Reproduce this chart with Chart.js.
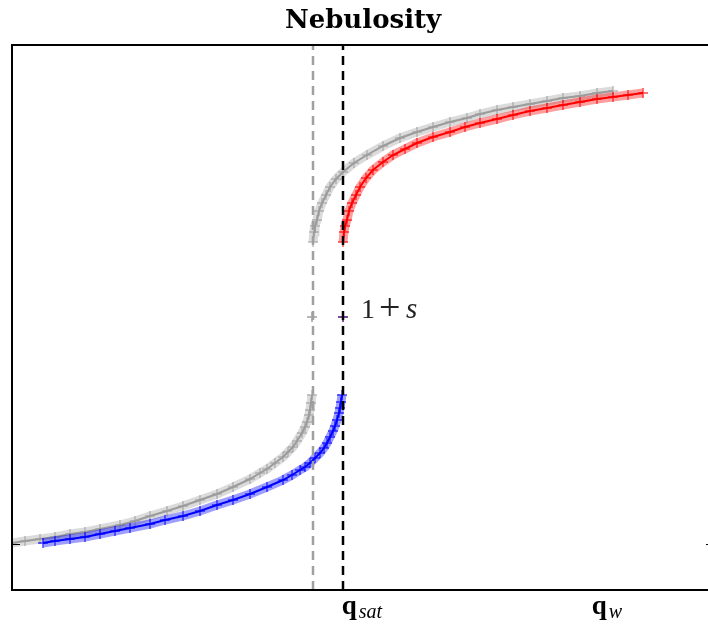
<!DOCTYPE html>
<html>
<head>
<meta charset="utf-8">
<script src="https://cdn.jsdelivr.net/npm/chart.js@4.4.0/dist/chart.umd.min.js"></script>
<style>
  html, body { margin: 0; padding: 0; background: #fff; overflow: hidden; }
  canvas { display: block; }
</style>
</head>
<body>
<canvas id="chart" width="708" height="631"></canvas>
<script>
// lower branch (blue), below q_sat
const blueX = [0.31, 0.43, 0.58, 0.73, 0.88, 1.03, 1.18, 1.38, 1.53, 1.71, 1.88, 2.05, 2.21, 2.38, 2.55, 2.71,
  2.80, 2.88, 2.93, 2.98, 3.03, 3.08, 3.12, 3.15, 3.18, 3.21, 3.23, 3.25, 3.27, 3.28, 3.29, 3.30];
const blueY = [-2.26, -2.24, -2.22, -2.20, -2.17, -2.14, -2.11, -2.07, -2.03, -1.99, -1.94, -1.88, -1.83, -1.77, -1.70, -1.63,
  -1.58, -1.53, -1.50, -1.46, -1.41, -1.36, -1.31, -1.26, -1.20, -1.14, -1.09, -1.03, -0.96, -0.91, -0.85, -0.78];

// upper branch (red), above q_sat
const redX = [3.31, 3.32, 3.33, 3.35, 3.37, 3.40, 3.44, 3.48, 3.54, 3.61, 3.71, 3.81, 3.93, 4.05, 4.21, 4.38,
  4.53, 4.68, 4.85, 5.01, 5.18, 5.35, 5.51, 5.68, 5.85, 6.01, 6.16, 6.31];
const redY = [0.75, 0.85, 0.91, 0.97, 1.06, 1.14, 1.22, 1.30, 1.39, 1.47, 1.55, 1.62, 1.68, 1.74, 1.80, 1.85,
  1.90, 1.94, 1.98, 2.02, 2.06, 2.09, 2.12, 2.15, 2.18, 2.20, 2.22, 2.24];

// shifted curve (gray), lower and upper branch
const grayLowX = [0.00, 0.13, 0.28, 0.43, 0.58, 0.73, 0.88, 1.08, 1.23, 1.38, 1.55, 1.71, 1.88, 2.05, 2.21, 2.38,
  2.48, 2.55, 2.63, 2.71, 2.76, 2.81, 2.85, 2.90, 2.93, 2.95, 2.97, 2.98, 2.99, 3.00];
const grayLowY = [-2.26, -2.24, -2.22, -2.20, -2.17, -2.15, -2.12, -2.08, -2.04, -1.99, -1.94, -1.89, -1.83, -1.77, -1.70, -1.62,
  -1.56, -1.52, -1.46, -1.40, -1.35, -1.30, -1.24, -1.16, -1.10, -1.05, -0.98, -0.93, -0.86, -0.78];
const grayUpX = [3.01, 3.02, 3.03, 3.05, 3.07, 3.10, 3.14, 3.18, 3.24, 3.31, 3.42, 3.55, 3.71, 3.88, 4.05, 4.21,
  4.38, 4.55, 4.68, 4.85, 5.01, 5.18, 5.35, 5.51, 5.68, 5.85, 6.01];
const grayUpY = [0.75, 0.85, 0.91, 0.97, 1.06, 1.14, 1.22, 1.30, 1.38, 1.45, 1.54, 1.62, 1.71, 1.79, 1.85, 1.90,
  1.95, 1.99, 2.03, 2.07, 2.10, 2.13, 2.16, 2.19, 2.21, 2.24, 2.26];

// the "1 + s" points at the jump
const centerX = [3.00, 3.31];
const centerY = [0, 0];

// vertical markers
const qSat = 3.31;
const qSatGray = 3.01;

// axis labels
const xTickPos = [3.50, 5.95];
const xTickSub = ['sat', 'w'];
const yTickVals = [-2.27];
const xFrameMax = 7.02; // right spine sits just past the window edge

const toPts = (xs, ys) => xs.map((x, i) => ({ x: x, y: ys[i] }));

function bandSet(xs, ys, rgb) {
  return {
    data: toPts(xs, ys),
    showLine: true,
    borderColor: `rgba(${rgb},0.38)`,
    borderWidth: 9,
    pointStyle: 'cross',
    pointRadius: 5,
    pointBorderWidth: 1.4,
    pointBorderColor: `rgba(${rgb},0.75)`
  };
}
function coreSet(xs, ys, color) {
  return {
    data: toPts(xs, ys),
    showLine: true,
    borderColor: color,
    borderWidth: 2,
    pointRadius: 0
  };
}

const vLine = (x, color) => ({
  data: [{ x: x, y: -2.73 }, { x: x, y: 2.72 }],
  showLine: true,
  borderColor: color,
  borderWidth: 2.5,
  borderDash: [9, 6],
  pointRadius: 0
});

const decor = {
  id: 'decor',
  afterDatasetsDraw(chart) {
    const ctx = chart.ctx;
    const a = chart.chartArea;
    const xs = chart.scales.x, ys = chart.scales.y;
    const right = xs.getPixelForValue(xFrameMax);
    ctx.save();
    // frame
    ctx.strokeStyle = '#000';
    ctx.lineWidth = 2;
    ctx.strokeRect(a.left, a.top, right - a.left, a.bottom - a.top);
    // inward y ticks
    ctx.lineWidth = 1;
    yTickVals.forEach(v => {
      const py = Math.round(ys.getPixelForValue(v)) + 0.5;
      ctx.beginPath();
      ctx.moveTo(a.left, py); ctx.lineTo(a.left + 8, py);
      ctx.moveTo(right, py); ctx.lineTo(right - 8, py);
      ctx.stroke();
    });
    // title
    ctx.fillStyle = '#000';
    ctx.textAlign = 'center';
    ctx.textBaseline = 'alphabetic';
    ctx.font = 'bold 26px "DejaVu Serif"';
    ctx.fillText('Nebulosity', (a.left + right) / 2, 28);
    // 1 + s
    ctx.textAlign = 'left';
    ctx.fillStyle = '#222';
    const lx = xs.getPixelForValue(qSat) + 18;
    const ly = ys.getPixelForValue(0) + 1;
    ctx.font = '28px "Liberation Serif"';
    ctx.fillText('1', lx, ly);
    ctx.font = '38px "Liberation Serif"';
    ctx.fillText('+', lx + 18, ly + 2);
    ctx.font = 'italic 29px "Liberation Serif"';
    ctx.fillText('s', lx + 45, ly);
    // x labels: bold q with italic subscript
    ctx.fillStyle = '#000';
    xTickPos.forEach((v, i) => {
      ctx.font = 'bold 27px "Liberation Serif"';
      const wq = ctx.measureText('q').width;
      ctx.font = 'italic 20px "Liberation Serif"';
      const ws = ctx.measureText(xTickSub[i]).width;
      const x0 = xs.getPixelForValue(v) - (wq + 2 + ws) / 2;
      ctx.font = 'bold 27px "Liberation Serif"';
      ctx.fillText('q', x0, 614);
      ctx.font = 'italic 20px "Liberation Serif"';
      ctx.fillText(xTickSub[i], x0 + wq + 2, 618);
    });
    ctx.restore();
  }
};

new Chart(document.getElementById('chart'), {
  type: 'scatter',
  data: {
    datasets: [
      vLine(qSat, '#000'),
      vLine(qSatGray, '#a0a0a0'),
      {
        data: toPts(centerX, centerY),
        pointStyle: 'cross',
        pointRadius: 5,
        pointBorderWidth: 1.5,
        pointBorderColor: ['rgba(150,150,150,0.9)', 'rgba(70,0,120,0.95)']
      },
      coreSet(blueX, blueY, 'rgb(0,0,255)'),
      coreSet(redX, redY, 'rgb(255,0,0)'),
      bandSet(blueX, blueY, '0,0,255'),
      bandSet(redX, redY, '255,0,0'),
      coreSet(grayLowX, grayLowY, 'rgb(155,155,155)'),
      coreSet(grayUpX, grayUpY, 'rgb(155,155,155)'),
      bandSet(grayLowX, grayLowY, '160,160,160'),
      bandSet(grayUpX, grayUpY, '160,160,160')
    ]
  },
  options: {
    responsive: false,
    animation: false,
    layout: { autoPadding: false, padding: { left: 12, right: 0, top: 45, bottom: 41 } },
    plugins: { legend: { display: false }, tooltip: { enabled: false }, title: { display: false } },
    scales: {
      x: { type: 'linear', min: 0, max: 6.96, display: false },
      y: { type: 'linear', min: -2.73, max: 2.72, display: false }
    }
  },
  plugins: [decor]
});
</script>
</body>
</html>
